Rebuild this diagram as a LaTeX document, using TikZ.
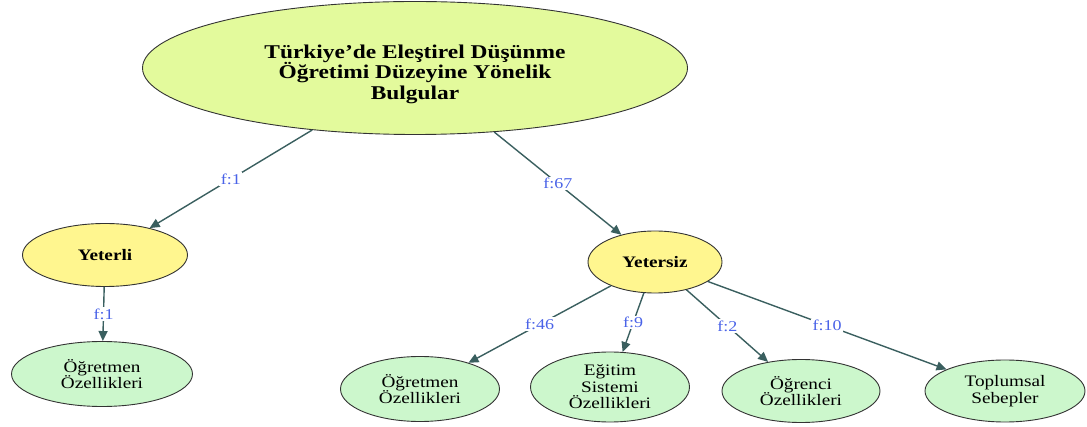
\documentclass[tikz,border=0pt]{standalone}
\usepackage{fontspec}
\setmainfont{Liberation Serif}[FakeStretch=1.2]
\usetikzlibrary{shapes.geometric,arrows.meta}
\definecolor{edgecol}{HTML}{3A5F5F}
\definecolor{labcol}{HTML}{4A63E8}
\definecolor{rootfill}{HTML}{E3FA9C}
\definecolor{midfill}{HTML}{FFF68F}
\definecolor{leaffill}{HTML}{CCF7CC}
\tikzset{
  oval/.style={ellipse, draw=black!80, line width=0.9pt, inner sep=0pt, align=center},
  root/.style={oval, fill=rootfill, font=\fontsize{19.5}{20.5}\selectfont\bfseries},
  mid/.style={oval, fill=midfill, font=\fontsize{16}{17}\selectfont\bfseries},
  leaf/.style={oval, fill=leaffill, font=\fontsize{16}{16.5}\selectfont},
  conn/.style={draw=edgecol, line width=1.4pt, -{Triangle[length=10pt,width=9pt]}},
  lab/.style={fill=white, text=labcol, inner sep=1.5pt, font=\fontsize{15}{16}\selectfont}
}
\begin{document}
\begin{tikzpicture}[x=1pt,y=1pt]
\useasboundingbox (0,0) rectangle (1087,-427);
\node[root, minimum width=545, minimum height=133] (r) at (415,-68) {\rule{0pt}{26pt}Türkiye’de Eleştirel Düşünme\\Öğretimi Düzeyine Yönelik\\Bulgular};
\node[mid, minimum width=165, minimum height=63] (y1) at (105,-255) {Yeterli};
\node[mid, minimum width=134, minimum height=62] (y2) at (655,-262) {Yetersiz};
\node[leaf, minimum width=181, minimum height=65] (a) at (102,-374) {Öğretmen\\Özellikleri};
\node[leaf, minimum width=159, minimum height=65] (b) at (420,-389) {Öğretmen\\Özellikleri};
\node[leaf, minimum width=159, minimum height=70] (c) at (610,-387) {Eğitim\\Sistemi\\Özellikleri};
\node[leaf, minimum width=158, minimum height=63] (d) at (801,-391) {Öğrenci\\Özellikleri};
\node[leaf, minimum width=160, minimum height=62] (e) at (1005,-391) {Toplumsal\\Sebepler};
\draw[conn] (r) -- node[lab] {f:1} (y1);
\draw[conn] (r) -- node[lab] {f:67} (y2);
\draw[conn] (y1) -- node[lab] {f:1} (a);
\draw[conn] (y2) -- node[lab] {f:46} (b);
\draw[conn] (y2) -- node[lab] {f:9} (c);
\draw[conn] (y2) -- node[lab] {f:2} (d);
\draw[conn] (y2) -- node[lab] {f:10} (e);
\end{tikzpicture}
\end{document}
